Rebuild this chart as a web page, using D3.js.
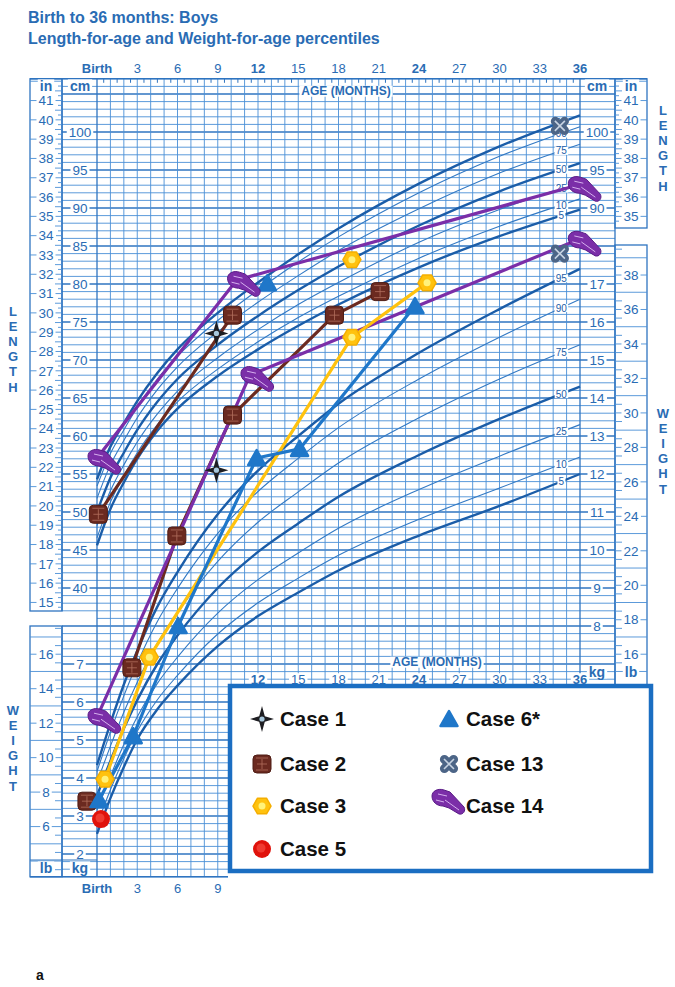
<!doctype html>
<meta charset="utf8">
<style>
  body { margin: 0; background: #fff; }
  svg { display: block; font-family: "Liberation Sans", Arial, sans-serif; }
</style>
<body>
<svg id="chart" width="675" height="987"></svg>

<script src="https://cdn.jsdelivr.net/npm/d3@7"></script>

<script>
(function() {

// percentile curves
const AGES = [0, 1, 2, 3, 4.5, 6, 9, 12, 15, 18, 24, 30, 36];
const PERCENTILES = ["5", "10", "25", "50", "75", "90", "95"];

const LENGTH_P5  = [45.6, 50.4, 53.9, 57.0, 60.7, 63.6, 67.9, 71.4, 74.5, 77.3, 82.2, 86.3, 89.8];
const LENGTH_P10 = [46.6, 51.3, 54.8, 57.8, 61.5, 64.5, 68.8, 72.4, 75.6, 78.4, 83.4, 87.6, 91.2];
const LENGTH_P25 = [48.2, 52.8, 56.2, 59.2, 62.9, 65.9, 70.3, 74.0, 77.3, 80.2, 85.5, 89.8, 93.4];
const LENGTH_P50 = [50.0, 54.5, 57.8, 60.8, 64.5, 67.5, 72.0, 75.8, 79.2, 82.3, 87.7, 92.2, 95.9];
const LENGTH_P75 = [51.8, 56.2, 59.4, 62.4, 66.1, 69.1, 73.7, 77.6, 81.1, 84.4, 89.9, 94.6, 98.4];
const LENGTH_P90 = [53.4, 57.7, 60.8, 63.8, 67.5, 70.5, 75.2, 79.2, 82.9, 86.2, 92.0, 96.8, 100.7];
const LENGTH_P95 = [54.3, 58.6, 61.7, 64.6, 68.3, 71.4, 76.2, 80.2, 83.9, 87.3, 93.2, 98.1, 102.2];

const WEIGHT_P5  = [2.53, 3.47, 4.29, 5.02, 5.81, 6.43, 7.47, 8.26, 8.88, 9.46, 10.38, 11.16, 12.0];
const WEIGHT_P10 = [2.77, 3.69, 4.51, 5.23, 6.06, 6.70, 7.79, 8.61, 9.26, 9.86, 10.81, 11.63, 12.45];
const WEIGHT_P25 = [3.15, 4.05, 4.88, 5.61, 6.49, 7.18, 8.34, 9.22, 9.92, 10.57, 11.59, 12.47, 13.3];
const WEIGHT_P50 = [3.53, 4.45, 5.30, 6.05, 7.00, 7.75, 9.00, 9.95, 10.7, 11.4, 12.5, 13.45, 14.3];
const WEIGHT_P75 = [3.88, 4.84, 5.73, 6.52, 7.55, 8.35, 9.70, 10.73, 11.53, 12.29, 13.48, 14.5, 15.4];
const WEIGHT_P90 = [4.17, 5.21, 6.16, 7.02, 8.12, 8.99, 10.44, 11.54, 12.41, 13.22, 14.5, 15.6, 16.6];
const WEIGHT_P95 = [4.34, 5.44, 6.46, 7.35, 8.51, 9.42, 10.94, 12.09, 13.0, 13.85, 15.19, 16.34, 17.4];

const LENGTH_CURVES = [LENGTH_P5, LENGTH_P10, LENGTH_P25, LENGTH_P50, LENGTH_P75, LENGTH_P90, LENGTH_P95];
const WEIGHT_CURVES = [WEIGHT_P5, WEIGHT_P10, WEIGHT_P25, WEIGHT_P50, WEIGHT_P75, WEIGHT_P90, WEIGHT_P95];

// case measurements: [age in months, cm] and [age in months, kg]
const CASE1_LENGTH = [[8.9, 73.5]];
const CASE1_WEIGHT = [[8.9, 12.1]];
const CASE2_LENGTH = [[0.1, 49.7], [10.1, 75.9]];
const CASE2_WEIGHT = [[2.6, 6.9], [5.95, 10.37], [10.1, 13.55], [17.7, 16.18], [21.1, 16.8]];
const CASE2_BIRTH  = [[-0.75, 3.39]];
const CASE3_LENGTH = [[19.0, 83.2]];
const CASE3_WEIGHT = [[0.6, 3.97], [3.9, 7.18], [19.0, 15.6], [24.6, 17.03]];
const CASE5_WEIGHT = [[0.3, 2.92]];
const CASE6_LENGTH = [[12.7, 80.1]];
const CASE6_WEIGHT = [[0.15, 3.42], [2.7, 5.1], [6.05, 8.0], [11.9, 12.42], [15.1, 12.66], [23.7, 16.42]];
const CASE13_LENGTH = [[34.5, 100.8]];
const CASE13_WEIGHT = [[34.5, 17.8]];
const CASE14_LENGTH = [[0, 57.1], [10.4, 80.5], [35.8, 93.0]];
const CASE14_WEIGHT = [[0, 5.6], [11.4, 14.6], [35.8, 18.16]];

const MONTH_TICKS = [0, 3, 6, 9, 12, 15, 18, 21, 24, 27, 30, 33, 36];
const BOLD_MONTHS = [0, 12, 24, 36];
const LEFT_CM_LABELS = [100, 95, 90, 85, 80, 75, 70, 65, 60, 55, 50, 45, 40];
const RIGHT_CM_LABELS = [100, 95, 90];
const LEFT_KG_LABELS = [7, 6, 5, 4, 3, 2];
const RIGHT_KG_LABELS = [17, 16, 15, 14, 13, 12, 11, 10, 9, 8];
const LEFT_IN_LABELS = d3.range(15, 42);
const RIGHT_IN_LABELS = d3.range(35, 42);
const LEFT_LB_LABELS = [16, 14, 12, 10, 8, 6];
const RIGHT_LB_LABELS = [38, 36, 34, 32, 30, 28, 26, 24, 22, 20, 18, 16];

const LEGEND_LEFT = [["star", "Case 1"], ["square", "Case 2"], ["hex", "Case 3"], ["dot", "Case 5"]];
const LEGEND_RIGHT = [["tri", "Case 6*"], ["cross", "Case 13"], ["comet", "Case 14"]];

const TEXT = "#2a6cb4";
const GRID = "#4a8fd6";
const GRID_DARK = "#2f74c0";
const CURVE = "#1b5da8";
const CURVE_THIN = "#3279c4";

const x = d3.scaleLinear().domain([0, 36]).range([97, 580]);
const yLen = d3.scaleLinear().domain([100, 40]).range([132, 588]);
const yWt = d3.scaleLinear().domain([17, 2]).range([284, 854]);

const TOP = yLen(107);
const MID = yLen(27);
const BOTTOM = yLen(2);
const LEFT_GAP = [611, 626];

const svg = d3.select("#chart");

function label(parent, text, cx, cy, o = {}) {
  const t = parent.append("text")
    .attr("x", cx).attr("y", cy).attr("dy", "0.35em")
    .attr("text-anchor", o.anchor || "middle")
    .attr("font-size", o.size || 13)
    .attr("font-weight", o.bold ? "bold" : null)
    .attr("fill", o.color || TEXT)
    .text(text);
  if (o.bg) {
    const b = t.node().getBBox();
    const pad = o.pad === undefined ? 2 : o.pad;
    parent.insert("rect", () => t.node())
      .attr("x", b.x - pad).attr("y", b.y + 1.5)
      .attr("width", b.width + 2 * pad).attr("height", b.height - 3)
      .attr("fill", "#fff");
  }
  return t;
}

// title
const title = svg.append("g").attr("fill", TEXT).attr("font-weight", "bold").attr("font-size", 16);
title.append("text").attr("x", 28).attr("y", 23).text("Birth to 36 months: Boys");
title.append("text").attr("x", 28).attr("y", 44).text("Length-for-age and Weight-for-age percentiles");

// grid
const grid = svg.append("g");
for (const cm of d3.range(2, 108)) {
  const y = yLen(cm);
  let x1 = 62;
  if (y > LEFT_GAP[0] && y < LEFT_GAP[1]) x1 = 97;
  const x2 = y <= MID + 0.1 ? 615 : 228;
  grid.append("line")
    .attr("x1", x1).attr("x2", x2).attr("y1", y).attr("y2", y)
    .attr("stroke", cm % 5 === 0 ? GRID_DARK : GRID)
    .attr("stroke-width", cm % 5 === 0 ? 1.3 : 0.9);
}
for (const m of d3.range(0, 37)) {
  const edge = m === 0 || m === 36;
  grid.append("line")
    .attr("x1", x(m)).attr("x2", x(m))
    .attr("y1", TOP).attr("y2", x(m) <= 228 ? BOTTOM : MID)
    .attr("stroke", edge ? GRID_DARK : GRID)
    .attr("stroke-width", edge ? 1.3 : 0.9);
}
for (const m of d3.range(0.5, 36, 1)) {
  grid.append("line")
    .attr("x1", x(m)).attr("x2", x(m)).attr("y1", TOP).attr("y2", TOP + 4)
    .attr("stroke", GRID_DARK).attr("stroke-width", 1);
}
grid.append("line").attr("x1", 30).attr("x2", 647).attr("y1", TOP).attr("y2", TOP)
  .attr("stroke", GRID_DARK).attr("stroke-width", 1.5);
grid.append("line").attr("x1", 62).attr("x2", 62).attr("y1", TOP).attr("y2", LEFT_GAP[0])
  .attr("stroke", GRID_DARK).attr("stroke-width", 1.3);
grid.append("line").attr("x1", 62).attr("x2", 62).attr("y1", LEFT_GAP[1]).attr("y2", BOTTOM)
  .attr("stroke", GRID_DARK).attr("stroke-width", 1.3);
grid.append("line").attr("x1", 615).attr("x2", 615).attr("y1", TOP).attr("y2", MID)
  .attr("stroke", GRID_DARK).attr("stroke-width", 1.3);
grid.append("line").attr("x1", 30).attr("x2", 228).attr("y1", BOTTOM).attr("y2", BOTTOM)
  .attr("stroke", GRID_DARK).attr("stroke-width", 1.5);

// inch / pound side columns
function sideColumn(x0, x1, top, bottom, toY, from, to, step, labels, inner) {
  const g = svg.append("g");
  g.append("rect").attr("x", x0).attr("y", top).attr("width", x1 - x0).attr("height", bottom - top)
    .attr("fill", "none").attr("stroke", GRID_DARK).attr("stroke-width", 1.3);
  for (const v of d3.range(from, to + 0.001, step)) {
    const y = toY(v);
    if (y < top + 2 || y > bottom - 2) continue;
    const whole = Math.abs(v - Math.round(v)) < 0.001;
    const half = Math.abs(v * 2 - Math.round(v * 2)) < 0.001;
    let a = x0, b = x1;
    if (!whole) {
      const len = half ? 7 : 4;
      if (inner === "right") { a = x1 - len; b = x1; } else { a = x0; b = x0 + len; }
    }
    g.append("line").attr("x1", a).attr("x2", b).attr("y1", y).attr("y2", y)
      .attr("stroke", GRID).attr("stroke-width", 0.9);
  }
  for (const v of labels) {
    label(g, v, (x0 + x1) / 2, toY(v), { bg: true, size: 13.5 });
  }
  return g;
}
const inchY = v => yLen(v * 2.54);
const lbY = v => yWt(v * 0.45359);
sideColumn(30, 62, TOP, LEFT_GAP[0], inchY, 14, 43, 0.25, LEFT_IN_LABELS, "right");
sideColumn(30, 62, LEFT_GAP[1], BOTTOM, lbY, 3, 18, 0.5, LEFT_LB_LABELS, "right");
sideColumn(615, 647, TOP, 228, inchY, 34, 43, 0.25, RIGHT_IN_LABELS, "left");
sideColumn(615, 647, 245, MID, lbY, 15, 40, 0.5, RIGHT_LB_LABELS, "left");

const axes = svg.append("g");
svg.append("line").attr("x1", 30).attr("x2", 97).attr("y1", 860).attr("y2", 860)
  .attr("stroke", GRID_DARK).attr("stroke-width", 1.2);
label(axes, "in", 46, 86, { bg: true, bold: true, size: 14 });
label(axes, "cm", 80, 86, { bg: true, bold: true, size: 14 });
label(axes, "cm", 597, 86, { bg: true, bold: true, size: 14 });
label(axes, "in", 631, 86, { bg: true, bold: true, size: 14 });
label(axes, "lb", 46, 868, { bg: true, bold: true, size: 14 });
label(axes, "kg", 80, 868, { bg: true, bold: true, size: 14 });
label(axes, "kg", 597, 672, { bg: true, bold: true, size: 14 });
label(axes, "lb", 631, 672, { bg: true, bold: true, size: 14 });

for (const v of LEFT_CM_LABELS) label(axes, v, 80, yLen(v), { bg: true, size: 13.5 });
for (const v of RIGHT_CM_LABELS) label(axes, v, 597, yLen(v), { bg: true, size: 13.5 });
for (const v of LEFT_KG_LABELS) label(axes, v, 80, yWt(v), { bg: true, size: 13.5 });
for (const v of RIGHT_KG_LABELS) label(axes, v, 597, yWt(v), { bg: true, size: 13.5 });

// percentile curves
const curves = svg.append("g");
function drawCurves(sets, y) {
  const line = d3.line().x(d => x(d[0])).y(d => y(d[1])).curve(d3.curveMonotoneX);
  sets.forEach((vals, i) => {
    const p = PERCENTILES[i];
    const thick = p === "5" || p === "50" || p === "95";
    curves.append("path")
      .datum(AGES.map((a, j) => [a, vals[j]]))
      .attr("d", line)
      .attr("fill", "none")
      .attr("stroke", thick ? CURVE : CURVE_THIN)
      .attr("stroke-width", thick ? 2.4 : 1.1);
  });
  sets.forEach((vals, i) => {
    const at = d3.scaleLinear().domain(AGES).range(vals);
    label(curves, PERCENTILES[i], x(34.6), y(at(34.6)), { bg: true, size: 10, pad: 1, color: CURVE });
  });
}
drawCurves(LENGTH_CURVES, yLen);
drawCurves(WEIGHT_CURVES, yWt);

// month labels
for (const m of MONTH_TICKS) {
  label(axes, m === 0 ? "Birth" : m, x(m), 68, { bold: BOLD_MONTHS.includes(m), size: 13 });
  if (m >= 12) label(axes, m, x(m), yLen(28), { bold: BOLD_MONTHS.includes(m), size: 13, bg: true });
  else label(axes, m === 0 ? "Birth" : m, x(m), 888, { bold: BOLD_MONTHS.includes(m), size: 13 });
}
label(axes, "AGE (MONTHS)", 346, 91, { bold: true, size: 12, bg: true });
label(axes, "AGE (MONTHS)", 437, 662, { bold: true, size: 12, bg: true });

function vertical(word, cx, y0) {
  word.split("").forEach((c, i) => label(axes, c, cx, y0 + i * 15.2, { bold: true, size: 13 }));
}
vertical("LENGTH", 13, 311);
vertical("WEIGHT", 13, 710);
vertical("LENGTH", 663, 110);
vertical("WEIGHT", 663, 413);

// markers
function marker(parent, type, cx, cy) {
  const g = parent.append("g").attr("transform", `translate(${cx},${cy})`);
  if (type === "star") {
    g.append("path").attr("d", "M0,-13 L2.8,-2.8 L12,0 L2.8,2.8 L0,13 L-2.8,2.8 L-12,0 L-2.8,-2.8 Z")
      .attr("fill", "#1e1e22");
    g.append("circle").attr("r", 2.6).attr("fill", "#a8c8dc");
  } else if (type === "square") {
    g.append("rect").attr("x", -9).attr("y", -9).attr("width", 18).attr("height", 18).attr("rx", 4)
      .attr("fill", "#6b2a20").attr("stroke", "#4e1c14").attr("stroke-width", 1);
    g.append("path").attr("d", "M-5,0 H5 M0,-5 V5 M-6,-6 H6 M-6,6 H6")
      .attr("stroke", "#b3705e").attr("stroke-width", 0.8);
  } else if (type === "hex") {
    const pts = d3.range(6).map(i => [9 * Math.cos(Math.PI / 3 * i), 9 * Math.sin(Math.PI / 3 * i)]);
    g.append("path").attr("d", "M" + pts.join("L") + "Z").attr("fill", "#ffc20e")
      .attr("stroke", "#f5ae00").attr("stroke-width", 1.5).attr("stroke-linejoin", "round");
    g.append("circle").attr("r", 3.5).attr("fill", "#fff27a");
  } else if (type === "dot") {
    g.append("circle").attr("r", 9).attr("fill", "#e0120b");
    g.append("circle").attr("r", 4.5).attr("cx", -1).attr("cy", -1).attr("fill", "#f03a30");
  } else if (type === "tri") {
    g.append("path").attr("d", "M0,-8 L8.5,7 L-8.5,7 Z").attr("fill", "#1f77c9")
      .attr("stroke", "#1f77c9").attr("stroke-width", 2.5).attr("stroke-linejoin", "round");
  } else if (type === "cross") {
    for (const r of [45, -45]) {
      g.append("rect").attr("x", -11).attr("y", -4.5).attr("width", 22).attr("height", 9).attr("rx", 4.5)
        .attr("transform", `rotate(${r})`).attr("fill", "#4c6587");
    }
    g.append("path").attr("d", "M-5,-5 L5,5 M-5,5 L5,-5").attr("stroke", "#c7d3e2").attr("stroke-width", 1.6);
  } else if (type === "comet") {
    g.append("path")
      .attr("d", "M-9,-2 C-9,-7 -3,-10 3,-8 L9,-6 L23,9 C25,13 22,17 18,16 L8,10 L2,8 C-4,8 -9,4 -9,-2 Z")
      .attr("fill", "#7b2ea8").attr("stroke", "#5a1c86").attr("stroke-width", 1);
    g.append("path").attr("d", "M-3,-4 L6,-2 M4,2 L18,12 M-5,2 L3,4")
      .attr("stroke", "#d6b0ee").attr("stroke-width", 1);
  }
  return g;
}

// case lines
const cases = svg.append("g");
const lenLine = d3.line().x(d => x(d[0])).y(d => yLen(d[1]));
const wtLine = d3.line().x(d => x(d[0])).y(d => yWt(d[1]));
function caseLine(data, line, color) {
  cases.append("path").datum(data).attr("d", line)
    .attr("fill", "none").attr("stroke", color).attr("stroke-width", 3.2)
    .attr("stroke-linecap", "round").attr("stroke-linejoin", "round");
}
caseLine(CASE2_LENGTH, lenLine, "#6b2a20");
caseLine(CASE2_WEIGHT, wtLine, "#6b2a20");
caseLine(CASE14_LENGTH, lenLine, "#7b2ea8");
caseLine(CASE14_WEIGHT, wtLine, "#7b2ea8");
caseLine(CASE3_WEIGHT, wtLine, "#ffc20e");
caseLine(CASE6_WEIGHT, wtLine, "#1f77c9");

function casePoints(data, y, type) {
  for (const d of data) marker(cases, type, x(d[0]), y(d[1]));
}
casePoints(CASE2_LENGTH, yLen, "square");
casePoints(CASE2_WEIGHT, yWt, "square");
casePoints(CASE2_BIRTH, yWt, "square");
casePoints(CASE3_LENGTH, yLen, "hex");
casePoints(CASE3_WEIGHT, yWt, "hex");
casePoints(CASE6_LENGTH, yLen, "tri");
casePoints(CASE6_WEIGHT, yWt, "tri");
casePoints(CASE5_WEIGHT, yWt, "dot");
casePoints(CASE1_LENGTH, yLen, "star");
casePoints(CASE1_WEIGHT, yWt, "star");
casePoints(CASE13_LENGTH, yLen, "cross");
casePoints(CASE13_WEIGHT, yWt, "cross");
casePoints(CASE14_LENGTH, yLen, "comet");
casePoints(CASE14_WEIGHT, yWt, "comet");

// legend
const legend = svg.append("g");
legend.append("rect").attr("x", 230).attr("y", 686).attr("width", 421).attr("height", 185)
  .attr("fill", "#fff").attr("stroke", "#1b6ec2").attr("stroke-width", 4.5);
const rowY = [719, 764, 806, 849];
LEGEND_LEFT.forEach(([type, name], i) => {
  marker(legend, type, 262, rowY[i]);
  legend.append("text").attr("x", 280).attr("y", rowY[i]).attr("dy", "0.35em")
    .attr("font-size", 20.5).attr("font-weight", "bold").attr("fill", "#111").text(name);
});
LEGEND_RIGHT.forEach(([type, name], i) => {
  if (type === "comet") marker(legend, type, 441, rowY[i] - 8);
  else marker(legend, type, 449, rowY[i]);
  legend.append("text").attr("x", 466).attr("y", rowY[i]).attr("dy", "0.35em")
    .attr("font-size", 20.5).attr("font-weight", "bold").attr("fill", "#111").text(name);
});

svg.append("text").attr("x", 36).attr("y", 980).attr("font-size", 14).attr("font-weight", "bold")
  .attr("fill", "#111").text("a");

})();
</script>
